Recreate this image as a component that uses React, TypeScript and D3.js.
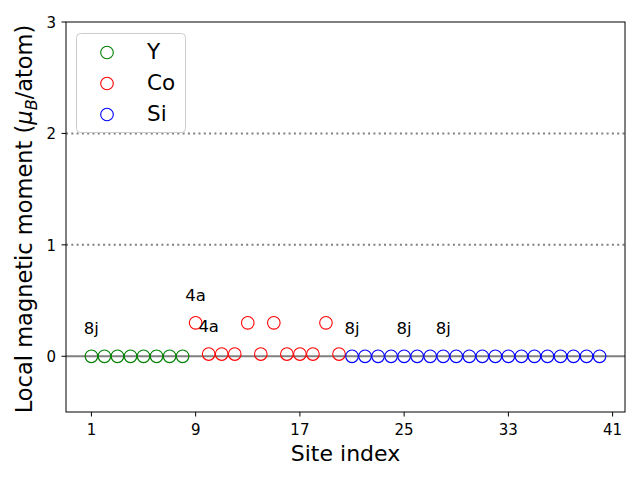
import React from "react";
import * as d3 from "d3";

const ySites = [1, 2, 3, 4, 5, 6, 7, 8];
const yValues = [0, 0, 0, 0, 0, 0, 0, 0];
const coSites = [9, 10, 11, 12, 13, 14, 15, 16, 17, 18, 19, 20];
const coValues = [0.3, 0.02, 0.02, 0.02, 0.3, 0.02, 0.3, 0.02, 0.02, 0.02, 0.3, 0.02];
const siSites = [21, 22, 23, 24, 25, 26, 27, 28, 29, 30, 31, 32, 33, 34, 35, 36, 37, 38, 39, 40];
const siValues = [0, 0, 0, 0, 0, 0, 0, 0, 0, 0, 0, 0, 0, 0, 0, 0, 0, 0, 0, 0];
const xTicks = [1, 9, 17, 25, 33, 41];
const yTicks = [0, 1, 2, 3];
const refLines = [1, 2];
const annotations: { x: number; y: number; t: string }[] = [
  { x: 1, y: 0.2, t: "8j" },
  { x: 9, y: 0.5, t: "4a" },
  { x: 10, y: 0.22, t: "4a" },
  { x: 21, y: 0.2, t: "8j" },
  { x: 25, y: 0.2, t: "8j" },
  { x: 28, y: 0.2, t: "8j" },
];
const seriesNames = ["Y", "Co", "Si"];
const seriesColors = ["green", "red", "blue"];

const W = 640, H = 480;
const left = 66, right = 625, top = 22, bottom = 412;
const font = "DejaVu Sans";

export default function App() {
  const x = d3.scaleLinear().domain([-0.95, 41.95]).range([left, right]);
  const y = d3.scaleLinear().domain([-0.5, 3]).range([bottom, top]);
  const series = [
    { sites: ySites, values: yValues },
    { sites: coSites, values: coValues },
    { sites: siSites, values: siValues },
  ];
  return (
    <svg width={W} height={H} style={{ position: "absolute", left: 0, top: 0 }} fontFamily={font}>
      <rect x={0} y={0} width={W} height={H} fill="white" />
      {refLines.map((v) => (
        <line key={v} x1={left} x2={right} y1={y(v)} y2={y(v)} stroke="#808080" strokeWidth={2} strokeDasharray="2,3.3" />
      ))}
      <line x1={left} x2={right} y1={y(0)} y2={y(0)} stroke="#808080" strokeWidth={2} />
      {series.map((s, si) =>
        s.sites.map((site, i) => (
          <circle key={si + "-" + i} cx={x(site)} cy={y(s.values[i])} r={6.3} fill="none" stroke={seriesColors[si]} strokeWidth={1.1} />
        ))
      )}
      {annotations.map((a, i) => (
        <text key={i} x={x(a.x)} y={y(a.y)} textAnchor="middle" fontSize={16.5} fill="black">{a.t}</text>
      ))}
      <rect x={left} y={top} width={right - left} height={bottom - top} fill="none" stroke="black" strokeWidth={1} />
      {xTicks.map((t) => (
        <g key={t}>
          <line x1={x(t)} x2={x(t)} y1={bottom} y2={bottom + 4.5} stroke="black" />
          <text x={x(t)} y={bottom + 23} textAnchor="middle" fontSize={15}>{t}</text>
        </g>
      ))}
      {yTicks.map((t) => (
        <g key={t}>
          <line x1={left - 4.5} x2={left} y1={y(t)} y2={y(t)} stroke="black" />
          <text x={left - 10} y={y(t) + 6} textAnchor="end" fontSize={15}>{t}</text>
        </g>
      ))}
      <text x={(left + right) / 2} y={461} textAnchor="middle" fontSize={22}>Site index</text>
      <text transform={`translate(32, ${(top + bottom) / 2 + 2}) rotate(-90)`} textAnchor="middle" fontSize={22.5}>
        Local magnetic moment (<tspan fontStyle="italic">μ</tspan>
        <tspan fontStyle="italic" fontSize={16} dy={5}>B</tspan>
        <tspan dy={-5}>/atom)</tspan>
      </text>
      <g>
        <rect x={76.5} y={33.5} width={109} height={99} rx={4} fill="white" fillOpacity={0.8} stroke="#cccccc" />
        {seriesNames.map((n, i) => (
          <g key={n}>
            <circle cx={107} cy={52.5 + i * 31} r={6.3} fill="none" stroke={seriesColors[i]} strokeWidth={1.1} />
            <text x={147} y={52.5 + i * 31 + 6} fontSize={21.5}>{n}</text>
          </g>
        ))}
      </g>
    </svg>
  );
}
